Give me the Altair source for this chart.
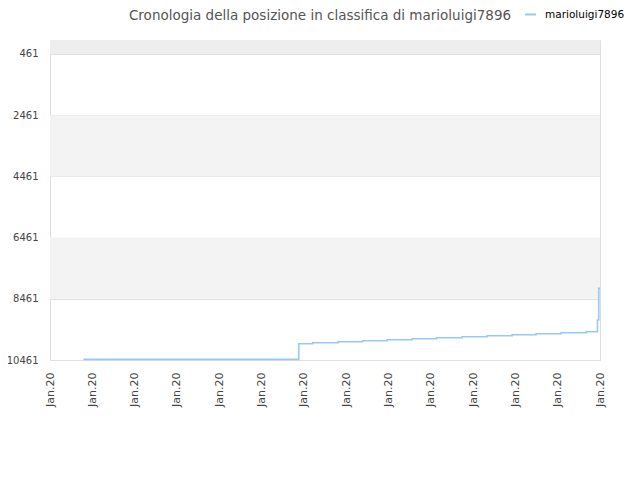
import altair as alt
import pandas as pd

# ---- data ----
series_name = "marioluigi7896"
step_x = [0.79, 5.88, 6.21, 6.81, 7.39, 7.97, 8.56, 9.14, 9.74, 10.33,
          10.92, 11.49, 12.08, 12.67, 12.94, 12.97, 13.0]
rank = [10440, 9928, 9896, 9863, 9830, 9798, 9765, 9732, 9700, 9667,
        9634, 9602, 9569, 9536, 9154, 8118, 8118]
y_ticks = [461, 2461, 4461, 6461, 8461, 10461]
x_ticks = list(range(14))
x_label = "Jan.20"
band_start = [4, 2461, 6461]
band_end = [461, 4461, 8461]
band_fill = ["#eeeeee", "#f3f3f3", "#f3f3f3"]

line_df = pd.DataFrame({"t": step_x, "rank": rank, "series": [series_name] * len(step_x)})
band_df = pd.DataFrame({"y0": band_start, "y1": band_end, "fill": band_fill})

x_scale = alt.Scale(domain=[0, 13], nice=False, zero=False)
y_scale = alt.Scale(domain=[4, 10461], reverse=True, nice=False, zero=False)

bands = alt.Chart(band_df).mark_rect().encode(
    x=alt.datum(0, scale=x_scale),
    x2=alt.datum(13),
    y=alt.Y("y0:Q", scale=y_scale),
    y2="y1:Q",
    color=alt.Color("fill:N", scale=None),
)

line = alt.Chart(line_df).mark_line(interpolate="step-after", strokeWidth=1.6).encode(
    x=alt.X("t:Q", scale=x_scale,
            axis=alt.Axis(values=x_ticks, labelExpr=f"'{x_label}'", labelAngle=270,
                          ticks=False, grid=False, domain=False, title=None,
                          labelPadding=12, labelFontSize=11, labelColor="#444444")),
    y=alt.Y("rank:Q", scale=y_scale,
            axis=alt.Axis(values=y_ticks, format="d", ticks=False, domain=False, title=None,
                          grid=True, gridColor="#e0e0e0", labelPadding=12,
                          labelFontSize=10, labelColor="#444444")),
    color=alt.Color("series:N",
                    scale=alt.Scale(domain=[series_name], range=["#99c9f3"]),
                    legend=alt.Legend(title=None, orient="none", legendX=474, legendY=-32,
                                      symbolType="stroke", symbolStrokeWidth=2,
                                      symbolSize=120, labelFontSize=10.5, labelOffset=8,
                                      labelColor="#000000")),
)

chart = alt.layer(bands, line).properties(
    width=550,
    height=320,
    autosize=alt.AutoSizeParams(type="none"),
    padding={"left": 42, "top": 32, "right": 32, "bottom": 112},
    title=alt.Title("Cronologia della posizione in classifica di marioluigi7896",
                    fontSize=13.5, fontWeight="normal", color="#555555",
                    anchor="middle", frame="group", offset=0, dy=14, dx=-5),
).configure(font="DejaVu Sans").configure_view(stroke="#dddddd")

chart.save("out.html", embed_options={"renderer": "svg", "actions": False})
